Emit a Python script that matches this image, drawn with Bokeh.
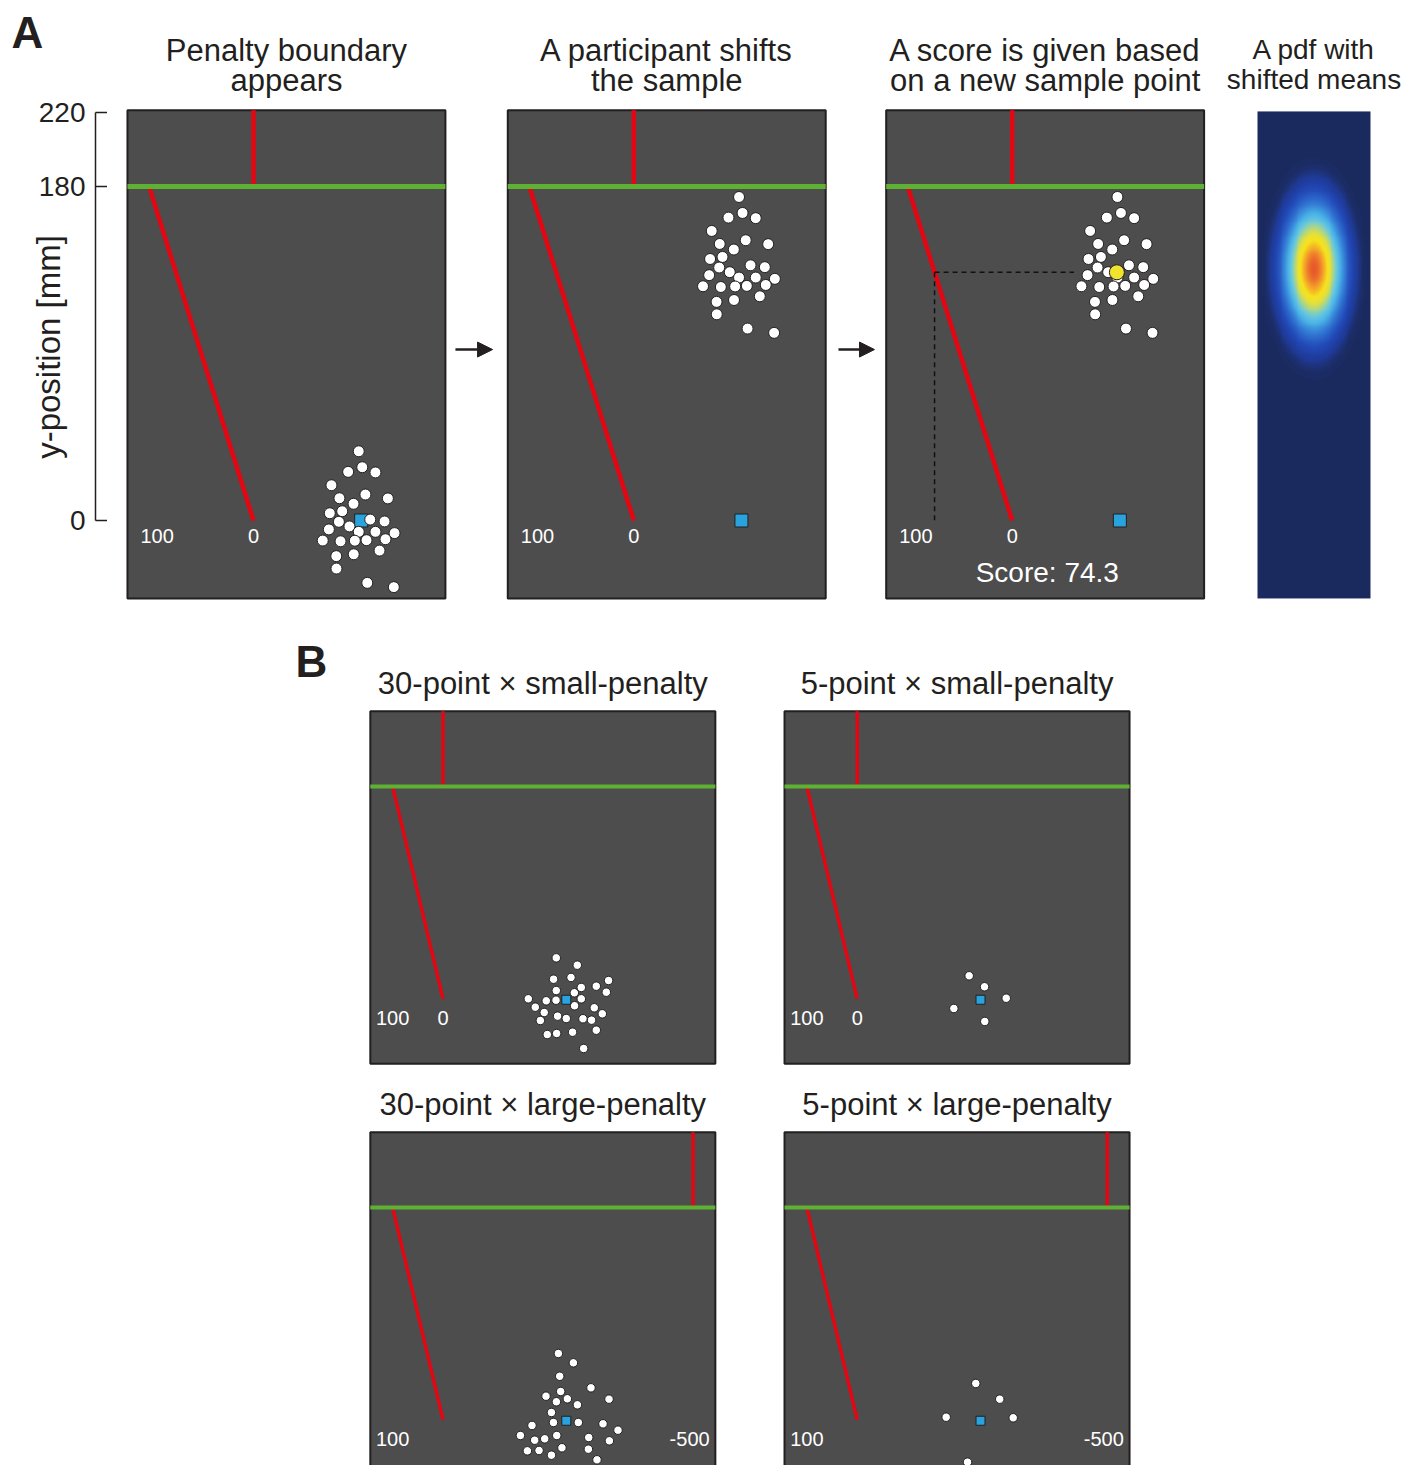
import numpy as np
from bokeh.plotting import figure
from bokeh.layouts import column, row
from bokeh.models import Range1d, FixedTicker, Arrow, NormalHead, LinearColorMapper, LinearAxis
from bokeh.core.properties import value
from bokeh.embed import file_html
from bokeh.resources import INLINE

# ------------------------------------------------------------------ data (mm)
BOUNDARY_Y = 180                       # green line; top of the penalty boundary
Y_TICKS = [0, 180, 220]
Y_LABEL = "y-position [mm]"

# Panel A: a 30-point sample around the target (x, y in mm)
A_DOTS_X = [56.7, 51.0, 58.6, 65.7, 42.0, 60.3, 72.4, 46.3, 53.9, 41.1,
            47.8, 46.0, 51.7, 62.9, 70.6, 40.6, 56.7, 65.7, 76.0, 71.1,
            37.3, 46.9, 54.6, 60.9, 67.9, 44.6, 54.0, 44.7, 61.3, 75.6]
A_DOTS_Y = [37.3, 26.2, 28.7, 25.9, 19.0, 14.0, 11.9, 12.0, 9.0, 3.9,
            5.0, -0.7, -3.2, 0.5, -0.5, -4.8, -6.1, -6.1, -6.8, -10.1,
            -10.8, -11.2, -10.9, -10.6, -16.2, -19.2, -18.2, -25.9, -33.6, -35.9]
A_TARGET_X = [58.0]
A_TARGET_Y = [0.0]
A_SHIFT_Y = 137.0                      # shift applied by the participant
A_NEW_X = 56.4                         # x of the new sample point
SCORE = 74.3
A_DIAG_TOP_X = -56.3                   # penalty boundary x at y = 180
A_SCALE_LABELS = ["100", "0"]
A_SCALE_LABEL_X = [-51.9, 0.0]
A_TITLES = [["Penalty boundary", "appears"],
            ["A participant shifts", "the sample"],
            ["A score is given based", "on a new sample point"]]
PDF_TITLE = ["A pdf with", "shifted means"]
PDF_SD_X, PDF_SD_Y = 8.5, 18.0

# Panel B
B_TITLES = ["30-point \u00d7 small-penalty", "5-point \u00d7 small-penalty",
            "30-point \u00d7 large-penalty", "5-point \u00d7 large-penalty"]
B_SP30_X = [96.0, 113.8, 93.7, 108.5, 140.3, 96.0, 111.3, 117.2, 129.9, 138.4,
            72.3, 87.5, 95.8, 117.2, 78.2, 111.5, 128.2, 85.8, 135.0, 97.1,
            104.5, 118.6, 125.9, 82.5, 129.9, 88.4, 96.3, 109.8, 119.2]
B_SP30_Y = [34.7, 28.5, 16.6, 18.1, 15.5, 7.0, 5.1, 9.6, 10.7, 5.6,
            0.0, -1.7, -1.2, 0.0, -7.1, -5.9, -7.6, -11.6, -12.7, -14.7,
            -16.7, -16.9, -18.1, -18.4, -26.6, -30.3, -29.4, -28.3, -42.1]
B_SP5_X = [94.9, 107.9, 126.3, 81.9, 108.1]
B_SP5_Y = [19.5, 10.2, 0.5, -8.2, -19.2]
B_LP30_X = [97.8, 110.5, 98.9, 125.4, 87.3, 99.7, 105.4, 96.1, 113.9, 140.7,
            91.9, 93.6, 114.7, 135.6, 75.4, 148.3, 65.6, 77.7, 86.2, 96.4,
            123.5, 141.0, 71.5, 81.4, 100.8, 123.2, 91.9, 130.5, 82.2, 112.2]
B_LP30_Y = [56.2, 48.3, 36.9, 27.1, 20.0, 24.0, 17.8, 15.3, 12.7, 17.5,
            6.2, -2.3, -2.3, -3.4, -4.8, -8.8, -13.3, -17.3, -16.1, -13.3,
            -15.0, -17.8, -26.3, -26.0, -23.7, -24.9, -30.0, -33.9, -42.4, -48.6]
B_LP5_X = [100.5, 120.8, 75.4, 132.2, 93.5]
B_LP5_Y = [30.8, 17.5, 2.2, 1.7, -35.9]
B_TARGET_X = [104.5]
B_TARGET_Y = [-0.8]
B_DIAG_TOP_X = -42.7
B_PENALTY_X = {"small": 0.0, "large": 211.9}
B_SCALE_LABELS = {"small": ["100", "0"], "large": ["100", "-500"]}
B_SCALE_LABEL_X = {"small": [-42.7, 0.0], "large": [-42.7, 209.0]}

# ------------------------------------------------------------------ style
FONT = "Liberation Sans"
INK = "#231f20"
BOX_FILL = "#4d4d4d"
RED = "#e30613"
GREEN = "#5eb132"
BLUE = "#29a3dd"
YELLOW = "#f2e32d"
PDF_ANCHORS = [(0.000, "#1b2a5e"), (0.008, "#1c2e6c"), (0.02, "#1f3a96"), (0.05, "#2146b4"),
               (0.10, "#2a62c8"), (0.18, "#3a8cdc"), (0.26, "#4ab4e6"), (0.36, "#6cc8dc"),
               (0.46, "#a8d68a"), (0.58, "#e6e03a"), (0.70, "#f7e31c"), (0.84, "#f4a42a"),
               (1.00, "#e8582a")]

A_PX, B_PX = 1.856, 1.18               # px per mm
A_BOX_X, A_BOX_Y = (-67.9, 103.4), (-42.0, 221.0)
B_BOX_X, B_BOX_Y = (-61.6, 230.8), (-55.1, 243.7)
ROW_A_H = 634


def xr(left_px, right_px, origin_px, scale, origin_val=0.0):
    return (origin_val + (left_px - origin_px) / scale, origin_val + (right_px - origin_px) / scale)


def yr(top_px, bottom_px, origin_px, scale):
    return ((origin_px - bottom_px) / scale, (origin_px - top_px) / scale)


def base_fig(width, height, xrange_, yrange_, left_border=0, top_border=0, y_axis=False):
    p = figure(width=width, height=height,
               x_range=Range1d(*xrange_), y_range=Range1d(*yrange_),
               output_backend="svg", toolbar_location=None, tools="",
               x_axis_location=None, y_axis_location=("left" if y_axis else None),
               min_border=0, min_border_left=left_border, min_border_right=0,
               min_border_top=top_border, min_border_bottom=0)
    p.outline_line_color = None
    p.background_fill_color = "white"
    p.border_fill_color = "white"
    p.xgrid.visible = False
    p.ygrid.visible = False
    return p


def add_text(p, xs, ys, texts, size, color=INK, align="center", style="normal"):
    p.text(x=xs, y=ys, text=texts, text_font=value(FONT), text_font_size=value(size),
           text_color=color, text_align=align, text_baseline="middle", text_font_style=style)


def draw_screen(p, box_x, box_y, diag_top_x, pen_x, lab_x, lab_y, labels, red_w, green_w):
    p.quad(left=[box_x[0]], right=[box_x[1]], bottom=[box_y[0]], top=[box_y[1]],
           fill_color=BOX_FILL, line_color=INK, line_width=2)
    p.segment(x0=[pen_x, 0.0], y0=[BOUNDARY_Y, 0.0], x1=[pen_x, diag_top_x], y1=[box_y[1], BOUNDARY_Y],
              line_color=RED, line_width=red_w)
    p.segment(x0=[box_x[0]], y0=[BOUNDARY_Y], x1=[box_x[1]], y1=[BOUNDARY_Y],
              line_color=GREEN, line_width=green_w)
    add_text(p, lab_x, [lab_y] * len(labels), labels, "20px", color="white")


def dots(p, xs, ys, size):
    p.scatter(x=xs, y=ys, marker="circle", size=size, fill_color="white", line_color=INK, line_width=1)


def target(p, xs, ys, size):
    p.scatter(x=xs, y=ys, marker="square", size=size, fill_color=BLUE, line_color=INK, line_width=1)


A_TITLE_Y = [253.2, 237.1]
A_LAB_Y = -8.3
shift_y = [v + A_SHIFT_Y for v in A_DOTS_Y]

# ---------------- left strip: panel letter (title) + y axis
AX_TOP = 59
axf = base_fig(107, ROW_A_H, (0, 1), yr(AX_TOP, ROW_A_H, 520, A_PX),
               left_border=95, top_border=AX_TOP, y_axis=True)
axf.title.text = "A"
axf.title.align = "left"
axf.title.offset = -84
axf.title.standoff = 6
axf.title.text_font = FONT
axf.title.text_font_size = "44px"
axf.title.text_font_style = "bold"
axf.title.text_color = INK
ax = axf.yaxis[0]
ax.ticker = FixedTicker(ticks=Y_TICKS)
ax.bounds = (min(Y_TICKS), max(Y_TICKS))
ax.major_tick_in = 12
ax.major_tick_out = 0
ax.minor_tick_in = 0
ax.minor_tick_out = 0
ax.axis_line_width = 1.5
ax.axis_line_color = INK
ax.major_tick_line_width = 1.5
ax.major_tick_line_color = INK
ax.major_label_standoff = 10
ax.major_label_text_font = FONT
ax.major_label_text_font_size = "28px"
ax.major_label_text_color = INK
lab_ax = LinearAxis(ticker=FixedTicker(ticks=[]),
                    axis_line_color=None, major_tick_line_color=None, minor_tick_line_color=None,
                    major_label_text_font_size="0px", axis_label=Y_LABEL,
                    axis_label_text_font=FONT, axis_label_text_font_size="33px",
                    axis_label_text_font_style="normal", axis_label_text_color=INK,
                    axis_label_standoff=-31)
axf.add_layout(lab_ax, "left")
left_col = column(axf)

A_ROW_Y = yr(0, ROW_A_H, 520, A_PX)

# ---------------- A1
a1 = base_fig(340, ROW_A_H, xr(107, 447, 253, A_PX), A_ROW_Y)
draw_screen(a1, A_BOX_X, A_BOX_Y, A_DIAG_TOP_X, 0.0, A_SCALE_LABEL_X, A_LAB_Y, A_SCALE_LABELS, 4.5, 5)
target(a1, A_TARGET_X, A_TARGET_Y, 13)
dots(a1, A_DOTS_X, A_DOTS_Y, 11)
add_text(a1, [sum(A_BOX_X) / 2] * 2, A_TITLE_Y, A_TITLES[0], "31px")

# ---------------- A2
a2 = base_fig(380, ROW_A_H, xr(447, 827, 633.3, A_PX), A_ROW_Y)
draw_screen(a2, A_BOX_X, A_BOX_Y, A_DIAG_TOP_X, 0.0, A_SCALE_LABEL_X, A_LAB_Y, A_SCALE_LABELS, 4.5, 5)
target(a2, A_TARGET_X, A_TARGET_Y, 13)
dots(a2, A_DOTS_X, shift_y, 11)
add_text(a2, [sum(A_BOX_X) / 2] * 2, A_TITLE_Y, A_TITLES[1], "31px")
a2.add_layout(Arrow(end=NormalHead(size=15, fill_color=INK, line_color=INK),
                    x_start=-96.1, y_start=92.1, x_end=-76.1, y_end=92.1, line_width=2.5, line_color=INK))

# ---------------- A3
a3 = base_fig(379, ROW_A_H, xr(827, 1206, 1011.7, A_PX), A_ROW_Y)
draw_screen(a3, A_BOX_X, A_BOX_Y, A_DIAG_TOP_X, 0.0, A_SCALE_LABEL_X, A_LAB_Y, A_SCALE_LABELS, 4.5, 5)
new_y = SCORE / 100.0 * BOUNDARY_Y
x_int = A_DIAG_TOP_X * new_y / BOUNDARY_Y
a3.segment(x0=[x_int, x_int], y0=[new_y, new_y], x1=[min(A_DOTS_X) - 4.0, x_int], y1=[new_y, 0.0],
           line_color="#111111", line_width=1.5, line_dash="5 4")
target(a3, A_TARGET_X, A_TARGET_Y, 13)
dots(a3, A_DOTS_X, shift_y, 11)
a3.scatter(x=[A_NEW_X], y=[new_y], marker="circle", size=15, fill_color=YELLOW, line_color=INK, line_width=1)
add_text(a3, [18.9], [-27.9], ["Score: %.1f" % SCORE], "28px", color="white")
add_text(a3, [sum(A_BOX_X) / 2] * 2, A_TITLE_Y, A_TITLES[2], "31px")
a3.add_layout(Arrow(end=NormalHead(size=15, fill_color=INK, line_color=INK),
                    x_start=-93.6, y_start=92.1, x_end=-74.2, y_end=92.1, line_width=2.5, line_color=INK))

# ---------------- PDF
mx = float(np.mean(A_DOTS_X))
my = float(np.mean(shift_y))
pdf = base_fig(201, ROW_A_H, xr(1206, 1407, 1313.5, A_PX, origin_val=mx), A_ROW_Y)
img_w = 113 / A_PX
img_y0, img_y1 = -42.0, 220.4
nx, ny = 120, 520
gx = mx - img_w / 2 + (np.arange(nx) + 0.5) * img_w / nx
gy = img_y0 + (np.arange(ny) + 0.5) * (img_y1 - img_y0) / ny
GX, GY = np.meshgrid(gx, gy)
Z = np.exp(-0.5 * ((GX - mx) / PDF_SD_X) ** 2 - 0.5 * ((GY - my) / PDF_SD_Y) ** 2)
pos = [a for a, _ in PDF_ANCHORS]
rgb = np.array([[int(c[i:i + 2], 16) for i in (1, 3, 5)] for _, c in PDF_ANCHORS], dtype=float)
tt = np.linspace(0, 1, 256)
palette = ["#%02x%02x%02x" % tuple(int(round(np.interp(t, pos, rgb[:, k]))) for k in range(3)) for t in tt]
mapper = LinearColorMapper(palette=palette, low=0.0, high=1.0)
pdf.image(image=[Z], x=mx - img_w / 2, y=img_y0, dw=img_w, dh=img_y1 - img_y0, color_mapper=mapper)
add_text(pdf, [mx, mx], [253.8, 237.6], PDF_TITLE, "28px")

# ---------------- B
B_TOP_Y = yr(ROW_A_H, 1085, 998.3, B_PX)
B_BOT_Y = yr(1085, 1465, 1419.3, B_PX)
B_LEFT_X = xr(0, 750, 442.5, B_PX)
B_RIGHT_X = xr(750, 1407, 856.7, B_PX)
B_TITLE_Y = 266.8
B_LAB_Y = -16.5

panels = []
specs = [(B_LEFT_X, B_TOP_Y, 750, 1085 - ROW_A_H, B_SP30_X, B_SP30_Y, "small", B_TITLES[0]),
         (B_RIGHT_X, B_TOP_Y, 657, 1085 - ROW_A_H, B_SP5_X, B_SP5_Y, "small", B_TITLES[1]),
         (B_LEFT_X, B_BOT_Y, 750, 380, B_LP30_X, B_LP30_Y, "large", B_TITLES[2]),
         (B_RIGHT_X, B_BOT_Y, 657, 380, B_LP5_X, B_LP5_Y, "large", B_TITLES[3])]
for xrange_, yrange_, w, h, xs, ys, pen, title in specs:
    p = base_fig(w, h, xrange_, yrange_)
    draw_screen(p, B_BOX_X, B_BOX_Y, B_DIAG_TOP_X, B_PENALTY_X[pen], B_SCALE_LABEL_X[pen], B_LAB_Y,
                B_SCALE_LABELS[pen], 3.5, 4)
    dots(p, xs, ys, 8.5)
    target(p, B_TARGET_X, B_TARGET_Y, 9)
    add_text(p, [sum(B_BOX_X) / 2], [B_TITLE_Y], [title], "31px")
    panels.append(p)

add_text(panels[0], [-125.0], [285.8], ["B"], "44px", align="left", style="bold")

layout = column(row(left_col, a1, a2, a3, pdf), row(panels[0], panels[1]), row(panels[2], panels[3]))
open("out.html", "w").write(file_html(layout, INLINE))
